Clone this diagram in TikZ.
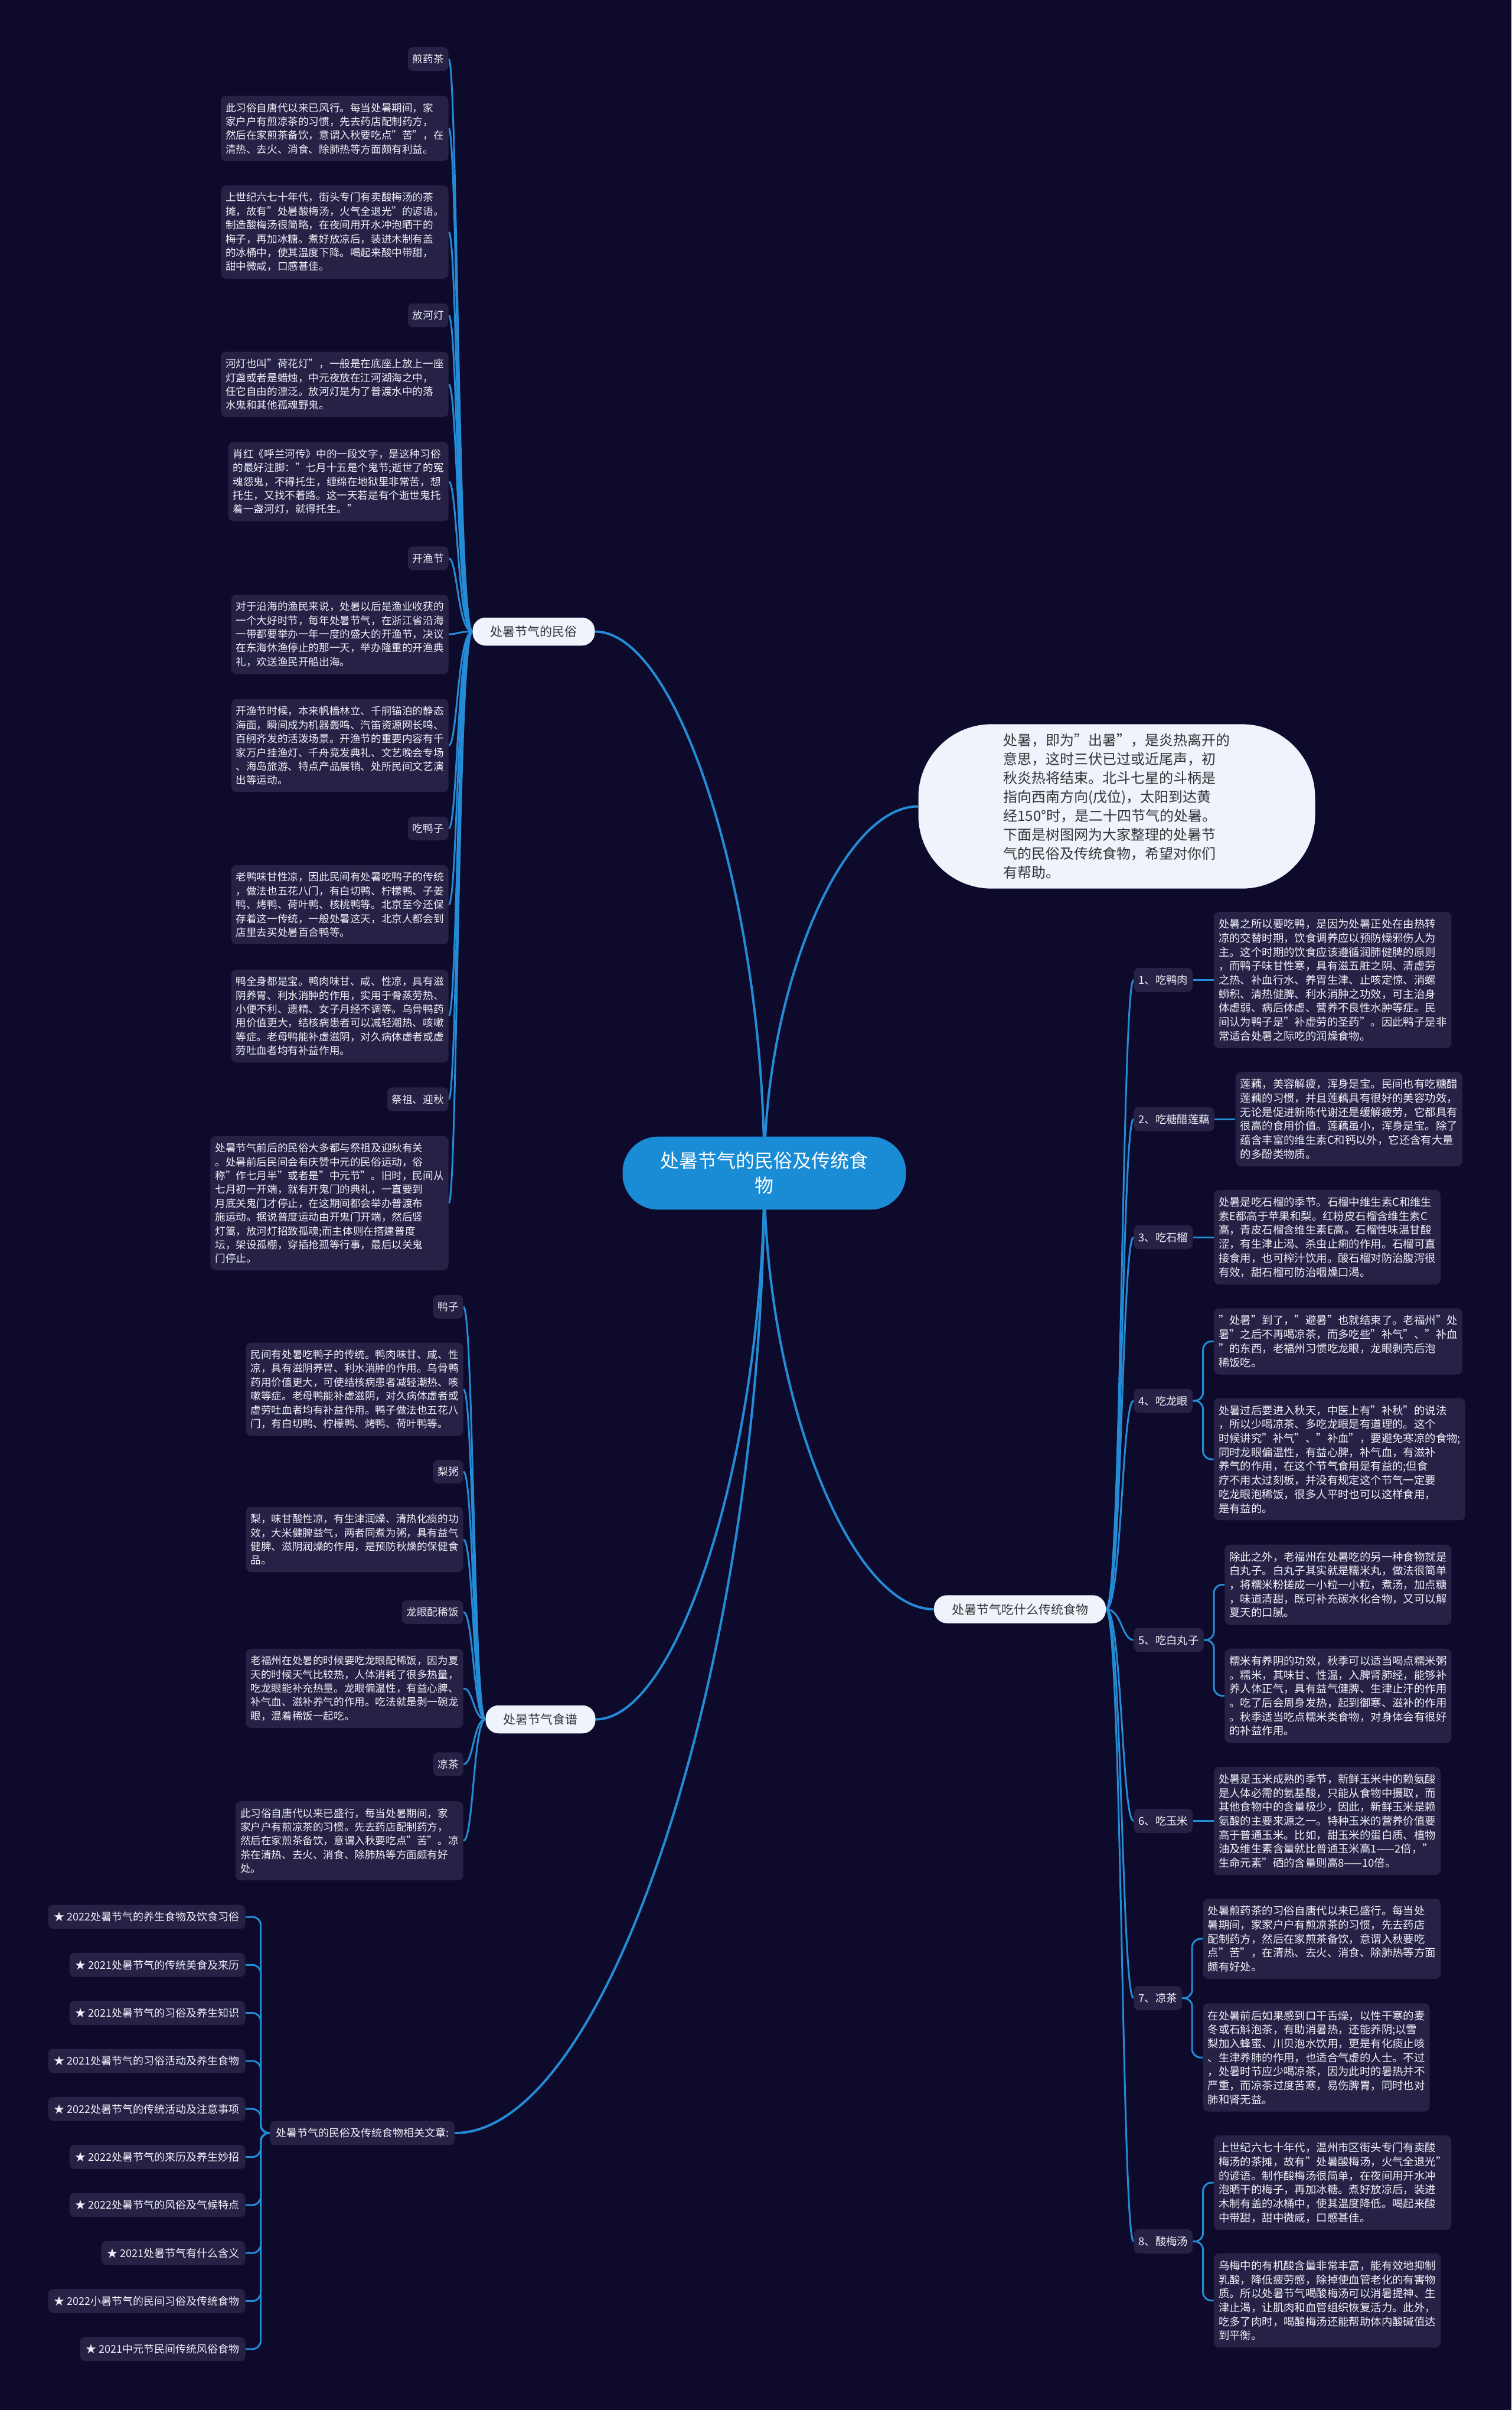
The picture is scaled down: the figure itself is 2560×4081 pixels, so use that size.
\documentclass[tikz,border=0pt]{standalone}
\usepackage{fontspec}
\setmainfont{Noto Sans CJK SC}
\usetikzlibrary{calc}
\definecolor{bgc}{RGB}{13,10,43}
\definecolor{boxc}{RGB}{37,34,70}
\definecolor{txtc}{RGB}{240,240,248}
\definecolor{linec}{RGB}{36,140,214}
\definecolor{cenc}{RGB}{26,140,214}
\definecolor{lightc}{RGB}{238,243,252}
\definecolor{darkc}{RGB}{51,51,51}
\pgfdeclarelayer{bg}
\pgfdeclarelayer{lines}
\pgfsetlayers{bg,lines,main}
\newcommand\mmConn[4]{\draw[#4] (#1) .. controls (#1 -| #3) and (#2 -| #3) .. (#2);}
\begin{document}
\begin{tikzpicture}[x=0.5pt,y=-0.5pt,
 conn/.style={draw=linec, line width=1.5pt},
 mainconn/.style={draw=linec, line width=2pt},
 tbl/.style={fill=boxc, text=txtc, rounded corners=4.5pt, inner xsep=4pt, inner ysep=6pt, align=left, font=\fontsize{8.8pt}{11.7pt}\selectfont},
 tbr/.style={tbl, font=\fontsize{9.2pt}{11.85pt}\selectfont},
 tbs/.style={tbl, inner xsep=5pt, font=\fontsize{9pt}{11.7pt}\selectfont},
 branch/.style={fill=lightc, text=darkc, rounded corners=11pt, inner xsep=15pt, inner ysep=7pt, font=\fontsize{10.5pt}{13pt}\selectfont},
 centre/.style={fill=cenc, text=white, rounded corners=30pt, inner xsep=32pt, inner ysep=13pt, align=center, font=\fontsize{16pt}{21pt}\selectfont},
 intro/.style={fill=lightc, text=darkc, rounded corners=62pt, inner xsep=72pt, inner ysep=8pt, align=left, font=\fontsize{12pt}{16pt}\selectfont}
]
\useasboundingbox (0,0) rectangle (2560,4081);
\begin{pgfonlayer}{bg}
\fill[bgc] (0,0) rectangle (2560,4081);
\end{pgfonlayer}

% central and branches
\node[centre] (cen) at (1294.5,1986.5) {处暑节气的民俗及传统食\\物};
\node[intro] (intro) at (1891.5,1365.5) {处暑，即为"出暑"，是炎热离开的\\意思，这时三伏已过或近尾声，初\\秋炎热将结束。北斗七星的斗柄是\\指向西南方向(戊位)，太阳到达黄\\经150°时，是二十四节气的处暑。\\下面是树图网为大家整理的处暑节\\气的民俗及传统食物，希望对你们\\有帮助。};
\node[branch] (min) at (904,1069.5) {处暑节气的民俗};
\node[branch] (shi) at (915.5,2911.5) {处暑节气食谱};
\node[branch] (chuan) at (1727.5,2725) {处暑节气吃什么传统食物};
\node[tbs] (rel) at (613.5,3612) {处暑节气的民俗及传统食物相关文章:};

% left: min su
\begin{scope}[every node/.append style={anchor=east}]
\node[tbl] (a1) at (760,100) {煎药茶};
\node[tbl] (a2) at (760,217.5) {此习俗自唐代以来已风行。每当处暑期间，家\\家户户有煎凉茶的习惯，先去药店配制药方，\\然后在家煎茶备饮，意谓入秋要吃点"苦"，在\\清热、去火、消食、除肺热等方面颇有利益。};
\node[tbl] (a3) at (760,393) {上世纪六七十年代，街头专门有卖酸梅汤的茶\\摊，故有"处暑酸梅汤，火气全退光"的谚语。\\制造酸梅汤很简略，在夜间用开水冲泡晒干的\\梅子，再加冰糖。煮好放凉后，装进木制有盖\\的冰桶中，使其温度下降。喝起来酸中带甜，\\甜中微咸，口感甚佳。};
\node[tbl] (a4) at (760,534) {放河灯};
\node[tbl] (a5) at (760,651) {河灯也叫"荷花灯"，一般是在底座上放上一座\\灯盏或者是蜡烛，中元夜放在江河湖海之中，\\任它自由的漂泛。放河灯是为了普渡水中的落\\水鬼和其他孤魂野鬼。};
\node[tbl] (a6) at (760,815.5) {肖红《呼兰河传》中的一段文字，是这种习俗\\的最好注脚："七月十五是个鬼节;逝世了的冤\\魂怨鬼，不得托生，缠绵在地狱里非常苦，想\\托生，又找不着路。这一天若是有个逝世鬼托\\着一盏河灯，就得托生。"};
\node[tbl] (a7) at (760,945.5) {开渔节};
\node[tbl] (a8) at (760,1074) {对于沿海的渔民来说，处暑以后是渔业收获的\\一个大好时节，每年处暑节气，在浙江省沿海\\一带都要举办一年一度的盛大的开渔节，决议\\在东海休渔停止的那一天，举办隆重的开渔典\\礼，欢送渔民开船出海。};
\node[tbl] (a9) at (760,1262.5) {开渔节时候，本来帆樯林立、千舸锚泊的静态\\海面，瞬间成为机器轰鸣、汽笛资源网长鸣、\\百舸齐发的活泼场景。开渔节的重要内容有千\\家万户挂渔灯、千舟竞发典礼、文艺晚会专场\\、海岛旅游、特点产品展销、处所民间文艺演\\出等运动。};
\node[tbl] (a10) at (760,1403) {吃鸭子};
\node[tbl] (a11) at (760,1532) {老鸭味甘性凉，因此民间有处暑吃鸭子的传统\\，做法也五花八门，有白切鸭、柠檬鸭、子姜\\鸭、烤鸭、荷叶鸭、核桃鸭等。北京至今还保\\存着这一传统，一般处暑这天，北京人都会到\\店里去买处暑百合鸭等。};
\node[tbl] (a12) at (760,1720.5) {鸭全身都是宝。鸭肉味甘、咸、性凉，具有滋\\阴养胃、利水消肿的作用，实用于骨蒸劳热、\\小便不利、遗精、女子月经不调等。乌骨鸭药\\用价值更大，结核病患者可以减轻潮热、咳嗽\\等症。老母鸭能补虚滋阴，对久病体虚者或虚\\劳吐血者均有补益作用。};
\node[tbl] (a13) at (760,1861.5) {祭祖、迎秋};
\node[tbl] (a14) at (760,2037.5) {处暑节气前后的民俗大多都与祭祖及迎秋有关\\。处暑前后民间会有庆赞中元的民俗运动，俗\\称"作七月半"或者是"中元节"。旧时，民间从\\七月初一开端，就有开鬼门的典礼，一直要到\\月底关鬼门才停止，在这期间都会举办普渡布\\施运动。据说普度运动由开鬼门开端，然后竖\\灯篙，放河灯招致孤魂;而主体则在搭建普度\\坛，架设孤棚，穿插抢孤等行事，最后以关鬼\\门停止。};

% left: shi pu
\node[tbl] (b1) at (785,2213) {鸭子};
\node[tbl] (b2) at (785,2352.5) {民间有处暑吃鸭子的传统。鸭肉味甘、咸、性\\凉，具有滋阴养胃、利水消肿的作用。乌骨鸭\\药用价值更大，可使结核病患者减轻潮热、咳\\嗽等症。老母鸭能补虚滋阴，对久病体虚者或\\虚劳吐血者均有补益作用。鸭子做法也五花八\\门，有白切鸭、柠檬鸭、烤鸭、荷叶鸭等。};
\node[tbl] (b3) at (785,2492) {梨粥};
\node[tbl] (b4) at (785,2607) {梨，味甘酸性凉，有生津润燥、清热化痰的功\\效，大米健脾益气，两者同煮为粥，具有益气\\健脾、滋阴润燥的作用，是预防秋燥的保健食\\品。};
\node[tbl] (b5) at (785,2730) {龙眼配稀饭};
\node[tbl] (b6) at (785,2859) {老福州在处暑的时候要吃龙眼配稀饭，因为夏\\天的时候天气比较热，人体消耗了很多热量，\\吃龙眼能补充热量。龙眼偏温性，有益心脾、\\补气血、滋补养气的作用。吃法就是剥一碗龙\\眼，混着稀饭一起吃。};
\node[tbl] (b7) at (785,2987.5) {凉茶};
\node[tbl] (b8) at (785,3117) {此习俗自唐代以来已盛行，每当处暑期间，家\\家户户有煎凉茶的习惯。先去药店配制药方，\\然后在家煎茶备饮，意谓入秋要吃点"苦"。凉\\茶在清热、去火、消食、除肺热等方面颇有好\\处。};

% related list
\node[tbs] (c1) at (416,3246) {★ 2022处暑节气的养生食物及饮食习俗};
\node[tbs] (c2) at (416,3327.3) {★ 2021处暑节气的传统美食及来历};
\node[tbs] (c3) at (416,3408.6) {★ 2021处暑节气的习俗及养生知识};
\node[tbs] (c4) at (416,3489.9) {★ 2021处暑节气的习俗活动及养生食物};
\node[tbs] (c5) at (416,3571.2) {★ 2022处暑节气的传统活动及注意事项};
\node[tbs] (c6) at (416,3652.5) {★ 2022处暑节气的来历及养生妙招};
\node[tbs] (c7) at (416,3733.8) {★ 2022处暑节气的风俗及气候特点};
\node[tbs] (c8) at (416,3815.1) {★ 2021处暑节气有什么含义};
\node[tbs] (c9) at (416,3896.4) {★ 2022小暑节气的民间习俗及传统食物};
\node[tbs] (c10) at (416,3977.7) {★ 2021中元节民间传统风俗食物};
\end{scope}

% right: traditional foods
\begin{scope}[every node/.append style={anchor=west}]
\node[tbr] (d1) at (1920,1659.5) {1、吃鸭肉};
\node[tbr] (d2) at (1920,1895) {2、吃糖醋莲藕};
\node[tbr] (d3) at (1920,2095) {3、吃石榴};
\node[tbr] (d4) at (1920,2372) {4、吃龙眼};
\node[tbr] (d5) at (1920,2777) {5、吃白丸子};
\node[tbr] (d6) at (1920,3083.5) {6、吃玉米};
\node[tbr] (d7) at (1920,3383.5) {7、凉茶};
\node[tbr] (d8) at (1920,3795.5) {8、酸梅汤};

\node[tbr] (e1) at ($(d1.east)+(35,0)$) {处暑之所以要吃鸭，是因为处暑正处在由热转\\凉的交替时期，饮食调养应以预防燥邪伤人为\\主。这个时期的饮食应该遵循润肺健脾的原则\\，而鸭子味甘性寒，具有滋五脏之阴、清虚劳\\之热、补血行水、养胃生津、止咳定惊、消螺\\蛳积、清热健脾、利水消肿之功效，可主治身\\体虚弱、病后体虚、营养不良性水肿等症。民\\间认为鸭子是"补虚劳的圣药"。因此鸭子是非\\常适合处暑之际吃的润燥食物。};
\node[tbr] (e2) at ($(d2.east)+(35,0)$) {莲藕，美容解疲，浑身是宝。民间也有吃糖醋\\莲藕的习惯，并且莲藕具有很好的美容功效，\\无论是促进新陈代谢还是缓解疲劳，它都具有\\很高的食用价值。莲藕虽小，浑身是宝。除了\\蕴含丰富的维生素C和钙以外，它还含有大量\\的多酚类物质。};
\node[tbr] (e3) at ($(d3.east)+(35,0)$) {处暑是吃石榴的季节。石榴中维生素C和维生\\素E都高于苹果和梨。红粉皮石榴含维生素C\\高，青皮石榴含维生素E高。石榴性味温甘酸\\涩，有生津止渴、杀虫止痢的作用。石榴可直\\接食用，也可榨汁饮用。酸石榴对防治腹泻很\\有效，甜石榴可防治咽燥口渴。};
\node[tbr] (e4a) at ($(d4.east)+(35,2271.5-2372)$) {"处暑"到了，"避暑"也就结束了。老福州"处\\暑"之后不再喝凉茶，而多吃些"补气"、"补血\\"的东西，老福州习惯吃龙眼，龙眼剥壳后泡\\稀饭吃。};
\node[tbr] (e4b) at ($(d4.east)+(35,2471-2372)$) {处暑过后要进入秋天，中医上有"补秋"的说法\\，所以少喝凉茶、多吃龙眼是有道理的。这个\\时候讲究"补气"、"补血"，要避免寒凉的食物;\\同时龙眼偏温性，有益心脾，补气血，有滋补\\养气的作用，在这个节气食用是有益的;但食\\疗不用太过刻板，并没有规定这个节气一定要\\吃龙眼泡稀饭，很多人平时也可以这样食用，\\是有益的。};
\node[tbr] (e5a) at ($(d5.east)+(35,2683.5-2777)$) {除此之外，老福州在处暑吃的另一种食物就是\\白丸子。白丸子其实就是糯米丸，做法很简单\\，将糯米粉搓成一小粒一小粒，煮汤，加点糖\\，味道清甜，既可补充碳水化合物，又可以解\\夏天的口腻。};
\node[tbr] (e5b) at ($(d5.east)+(35,2871.5-2777)$) {糯米有养阴的功效，秋季可以适当喝点糯米粥\\。糯米，其味甘、性温，入脾肾肺经，能够补\\养人体正气，具有益气健脾、生津止汗的作用\\。吃了后会周身发热，起到御寒、滋补的作用\\。秋季适当吃点糯米类食物，对身体会有很好\\的补益作用。};
\node[tbr] (e6) at ($(d6.east)+(35,0)$) {处暑是玉米成熟的季节，新鲜玉米中的赖氨酸\\是人体必需的氨基酸，只能从食物中摄取，而\\其他食物中的含量极少，因此，新鲜玉米是赖\\氨酸的主要来源之一。特种玉米的营养价值要\\高于普通玉米。比如，甜玉米的蛋白质、植物\\油及维生素含量就比普通玉米高1——2倍，"\\生命元素"硒的含量则高8——10倍。};
\node[tbr] (e7a) at ($(d7.east)+(35,3283-3383.5)$) {处暑煎药茶的习俗自唐代以来已盛行。每当处\\暑期间，家家户户有煎凉茶的习惯，先去药店\\配制药方，然后在家煎茶备饮，意谓入秋要吃\\点"苦"，在清热、去火、消食、除肺热等方面\\颇有好处。};
\node[tbr] (e7b) at ($(d7.east)+(35,3484-3383.5)$) {在处暑前后如果感到口干舌燥，以性干寒的麦\\冬或石斛泡茶，有助消暑热，还能养阴;以雪\\梨加入蜂蜜、川贝泡水饮用，更是有化痰止咳\\、生津养肺的作用，也适合气虚的人士。不过\\，处暑时节应少喝凉茶，因为此时的暑热并不\\严重，而凉茶过度苦寒，易伤脾胃，同时也对\\肺和肾无益。};
\node[tbr] (e8a) at ($(d8.east)+(35,3696-3795.5)$) {上世纪六七十年代，温州市区街头专门有卖酸\\梅汤的茶摊，故有"处暑酸梅汤，火气全退光"\\的谚语。制作酸梅汤很简单，在夜间用开水冲\\泡晒干的梅子，再加冰糖。煮好放凉后，装进\\木制有盖的冰桶中，使其温度降低。喝起来酸\\中带甜，甜中微咸，口感甚佳。};
\node[tbr] (e8b) at ($(d8.east)+(35,3895.5-3795.5)$) {乌梅中的有机酸含量非常丰富，能有效地抑制\\乳酸，降低疲劳感，除掉使血管老化的有害物\\质。所以处暑节气喝酸梅汤可以消暑提神、生\\津止渴，让肌肉和血管组织恢复活力。此外，\\吃多了肉时，喝酸梅汤还能帮助体内酸碱值达\\到平衡。};
\end{scope}

\coordinate (xL) at (775,0);
\coordinate (xS) at (802,0);
\coordinate (xR) at (1900,0);

\begin{pgfonlayer}{lines}
% central connectors
\foreach \t/\a in {min/east, shi/east, rel/east, intro/west, chuan/west}{
  \path ($(cen.center)!0.5!(\t.\a)$) coordinate (mm);
  \draw[mainconn] (cen.center) .. controls (cen.center |- mm) and (mm |- \t.\a) .. (\t.\a);
}
\foreach \n in {a1,a2,a3,a4,a5,a6,a7,a8,a9,a10,a11,a12,a13,a14}{
  \mmConn{min.west}{\n.east}{xL}{conn}
}
\foreach \n in {b1,b2,b3,b4,b5,b6,b7,b8}{
  \mmConn{shi.west}{\n.east}{xS}{conn}
}
\foreach \n in {d1,d2,d3,d4,d5,d6,d7,d8}{
  \mmConn{chuan.east}{\n.west}{xR}{conn}
}
\foreach \n in {c1,c2,c3,c4,c5,c6,c7,c8,c9,c10}{
  \draw[conn, rounded corners=7pt] (rel.west) -- ++(-15,0) |- (\n.east);
}
\foreach \l/\t in {d1/e1, d2/e2, d3/e3, d6/e6}{
  \draw[conn] (\l.east) -- (\t.west);
}
\foreach \l/\t in {d4/e4a, d4/e4b, d5/e5a, d5/e5b, d7/e7a, d7/e7b, d8/e8a, d8/e8b}{
  \draw[conn, rounded corners=7pt] (\l.east) -- ++(17,0) |- (\t.west);
}
\end{pgfonlayer}
\end{tikzpicture}
\end{document}
